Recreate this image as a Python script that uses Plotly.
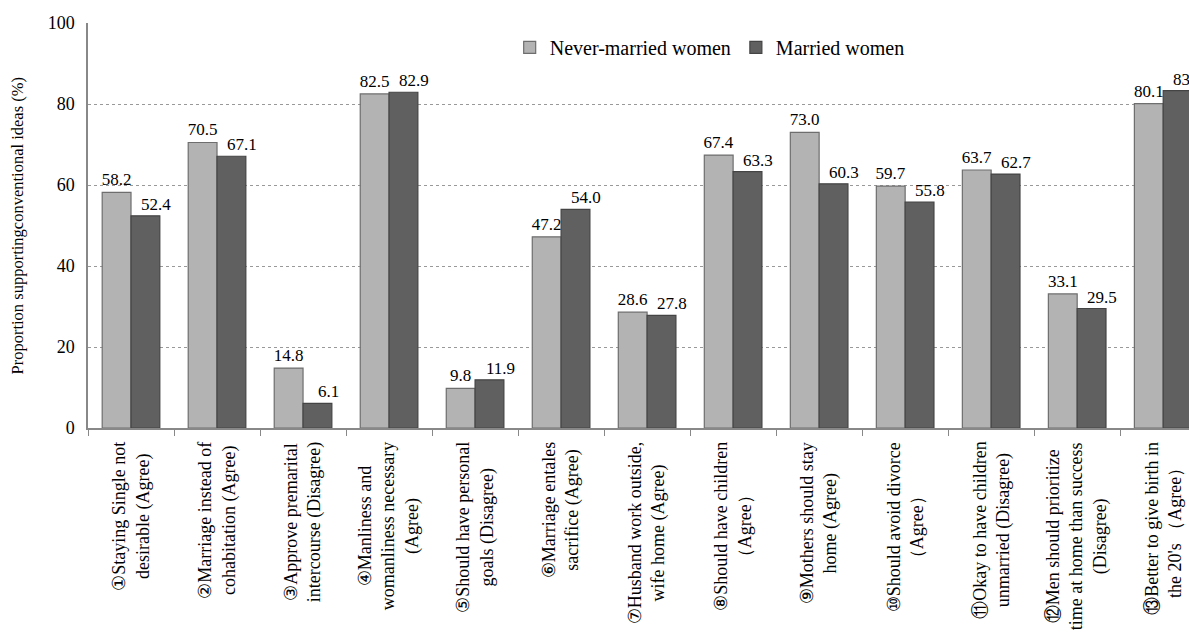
import plotly.graph_objects as go

categories = [
    "①Staying Single not<br>desirable (Agree)",
    "②Marriage instead of<br>cohabitation (Agree)",
    "③Approve premarital<br>intercourse (Disagree)",
    "④Manliness and<br>womanliness necessary<br>(Agree)",
    "⑤Should have personal<br>goals (Disagree)",
    "⑥Marriage entales<br>sacrifice (Agree)",
    "⑦Husband work outside,<br>wife home (Agree)",
    "⑧Should have children<br>（Agree）",
    "⑨Mothers should stay<br>home (Agree)",
    "⑩Should avoid divorce<br>（Agree）",
    "⑪Okay to have children<br>unmarried (Disagree)",
    "⑫Men should prioritize<br>time at home than success<br>(Disagree)",
    "⑬Better to give birth in<br>the 20's （Agree）",
]
never_married = [58.2, 70.5, 14.8, 82.5, 9.8, 47.2, 28.6, 67.4, 73.0, 59.7, 63.7, 33.1, 80.1]
married = [52.4, 67.1, 6.1, 82.9, 11.9, 54.0, 27.8, 63.3, 60.3, 55.8, 62.7, 29.5, 83.3]
y_ticks = [0, 20, 40, 60, 80, 100]
y_title = "Proportion supportingconventional ideas (%)"

FONT = '"Liberation Serif", "Times New Roman", Times, "DejaVu Serif", serif'

fig = go.Figure()
fig.add_trace(go.Bar(
    name="Never-married women", x=categories, y=never_married,
    marker=dict(color="#b3b3b3", line=dict(color="#6e6e6e", width=1.2)),
    texttemplate="%{y:.1f}", textposition="outside", cliponaxis=False,
    constraintext="none",
    textfont=dict(family=FONT, size=17, color="black"),
))
fig.add_trace(go.Bar(
    name="Married women", x=categories, y=married,
    marker=dict(color="#606060", line=dict(color="#444444", width=1.2)),
    textposition="none",
))

annotations = []
# value labels of the married-women bars, nudged right of the bar centre
for i, v in enumerate(married):
    annotations.append(dict(
        x=i, xref="x", y=v, yref="y", text=f"{v:.1f}", showarrow=False,
        xanchor="center", yanchor="bottom", xshift=25, yshift=0,
        font=dict(family=FONT, size=17, color="black"),
    ))
for i, c in enumerate(categories):
    annotations.append(dict(
        x=i, xref="x", y=-0.03, yref="paper", text=c, showarrow=False,
        textangle=-90, xanchor="center", yanchor="top", align="center",
        font=dict(family=FONT, size=18, color="black"),
    ))
annotations.append(dict(
    x=-0.0636, xref="paper", y=0.5, yref="paper", text=y_title, showarrow=False,
    textangle=-90, xanchor="center", yanchor="middle",
    font=dict(family=FONT, size=16.5, color="black"),
))

fig.update_layout(
    width=1189, height=644,
    margin=dict(l=88, r=0, t=23, b=216, autoexpand=False),
    plot_bgcolor="white", paper_bgcolor="white",
    barmode="group", bargap=0.33, bargroupgap=0,
    font=dict(family=FONT, color="black"),
    showlegend=True,
    legend=dict(orientation="h", x=0.383, y=0.94, xanchor="left", yanchor="middle",
                font=dict(family=FONT, size=20, color="black"),
                bgcolor="rgba(0,0,0,0)", itemwidth=30, traceorder="normal"),
    annotations=annotations,
)
fig.update_xaxes(
    range=[-0.5, 12.30], showticklabels=False, tickson="boundaries",
    ticks="outside", ticklen=6, tickcolor="#888888", tickwidth=1,
    showline=True, linecolor="#888888", linewidth=1.5, showgrid=False,
    automargin=False,
)
fig.update_yaxes(
    range=[0, 100], tickvals=y_ticks, ticks="", ticklabelstandoff=8,
    tickfont=dict(family=FONT, size=18, color="black"),
    showline=True, linecolor="#888888", linewidth=1.5,
    showgrid=True, gridcolor="#999999", griddash="dot", gridwidth=1,
    zeroline=False, automargin=False,
)
fig.write_html(
    "out.html",
    config={"displayModeBar": False},
    post_script="document.body.style.margin='0';document.body.style.overflow='hidden';",
)
